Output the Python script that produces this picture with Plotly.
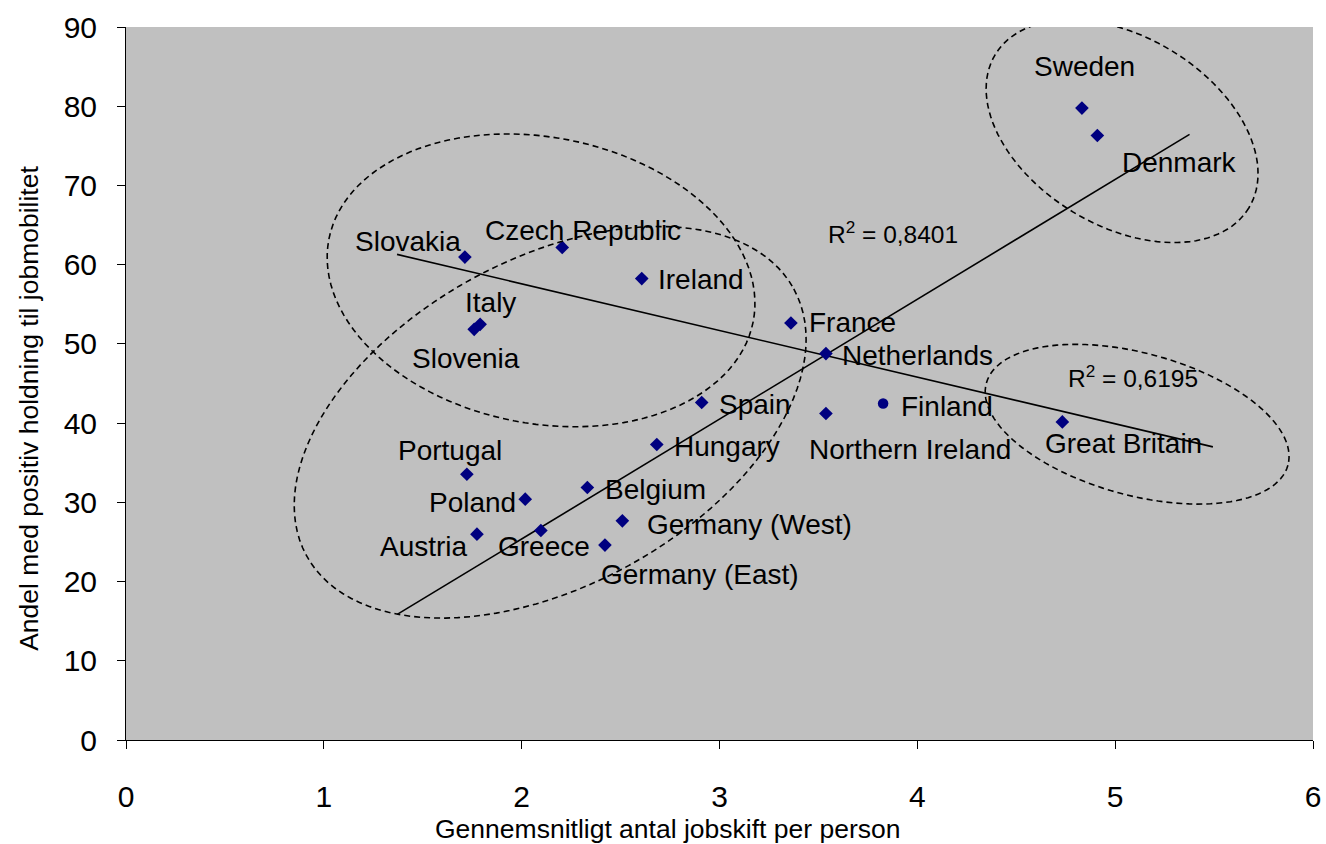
import math
import plotly.graph_objects as go

# ---------------- data ----------------
countries = ["Slovakia", "Czech Republic", "Ireland", "Italy", "Slovenia", "France",
             "Netherlands", "Spain", "Northern Ireland", "Finland", "Great Britain",
             "Sweden", "Denmark", "Hungary", "Portugal", "Belgium", "Poland",
             "Germany (West)", "Austria", "Greece", "Germany (East)"]
job_changes = [1.713, 2.205, 2.607, 1.790, 1.760, 3.361,
               3.538, 2.910, 3.538, 3.827, 4.733,
               4.832, 4.910, 2.683, 1.723, 2.332, 2.018,
               2.509, 1.774, 2.097, 2.421]
positive_share = [60.96, 62.18, 58.24, 52.47, 51.84, 52.64,
                  48.78, 42.60, 41.21, 42.47, 40.15,
                  79.76, 76.31, 37.30, 33.55, 31.87, 30.40,
                  27.66, 25.98, 26.45, 24.60]

# trend lines (linear fits): slope, intercept, x-range, R^2 text
trend_slope = [15.13, -5.892]
trend_intercept = [-4.89, 69.37]
trend_x_start = [1.371, 1.370]
trend_x_end = [5.376, 5.494]
r2_text = ["R<sup>2</sup> = 0,8401", "R<sup>2</sup> = 0,6195"]

x_ticks = [0, 1, 2, 3, 4, 5, 6]
y_ticks = [0, 10, 20, 30, 40, 50, 60, 70, 80, 90]

# ---------------- layout geometry ----------------
W, H = 1326, 844
# plot area in page pixels
P_LEFT, P_RIGHT, P_TOP, P_BOTTOM = 125.5, 1313.5, 26.5, 740
ML, MT = P_LEFT, P_TOP
MR, MB = W - P_RIGHT, H - P_BOTTOM
PW, PH = P_RIGHT - P_LEFT, P_BOTTOM - P_TOP
XR, YR = (0, 6), (0, 90)
px_per_x = PW / (XR[1] - XR[0])
px_per_y = PH / (YR[1] - YR[0])


def paper_x(px):
    return (px - P_LEFT) / PW


def paper_y(py):
    return (P_BOTTOM - py) / PH


FONT = "Arial, 'Liberation Sans', sans-serif"
NAVY = "#000080"

fig = go.Figure()

# trend lines
for s, b, x0, x1 in zip(trend_slope, trend_intercept, trend_x_start, trend_x_end):
    fig.add_trace(go.Scatter(x=[x0, x1], y=[s * x0 + b, s * x1 + b], mode="lines",
                             line=dict(color="black", width=1.6),
                             hoverinfo="skip", showlegend=False))

symbols = ["circle" if c == "Finland" else "diamond" for c in countries]
fig.add_trace(go.Scatter(x=job_changes, y=positive_share, mode="markers",
                         text=countries,
                         marker=dict(symbol=symbols, size=10.5, color=NAVY,
                                     line=dict(width=0)),
                         showlegend=False))

# label offsets in pixels (dx right, dy up)
label_offsets = {
    "Slovakia": (-57, 16), "Czech Republic": (21, 17), "Ireland": (59, -1),
    "Italy": (10, 22), "Slovenia": (-8, -29), "France": (62, 0),
    "Netherlands": (92, -2), "Spain": (53, -2), "Northern Ireland": (84, -36),
    "Finland": (64, -3), "Great Britain": (61, -22), "Sweden": (3, 42),
    "Denmark": (82, -27), "Hungary": (70, -2), "Portugal": (-17, 24),
    "Belgium": (68, -2), "Poland": (-53, -3), "Germany (West)": (127, -4),
    "Austria": (-53, -12), "Greece": (3, -16), "Germany (East)": (95, -29),
}
annotations = []
for c, xv, yv in zip(countries, job_changes, positive_share):
    dx, dy = label_offsets[c]
    annotations.append(dict(x=xv, y=yv, xref="x", yref="y", text=c, showarrow=False,
                            xshift=dx, yshift=dy, xanchor="center", yanchor="middle",
                            font=dict(family=FONT, size=28, color="black")))

# R^2 labels (page pixel positions)
r2_pos = [(893, 232), (1133, 376)]
for t, (px, py) in zip(r2_text, r2_pos):
    annotations.append(dict(x=paper_x(px), y=paper_y(py), xref="paper", yref="paper",
                            text=t, showarrow=False, xanchor="center", yanchor="middle",
                            font=dict(family=FONT, size=24.5, color="black")))

# axis titles
annotations.append(dict(x=paper_x(667), y=paper_y(829), xref="paper", yref="paper",
                        text="Gennemsnitligt antal jobskift per person", showarrow=False,
                        xanchor="center", yanchor="middle",
                        font=dict(family=FONT, size=26.5, color="black")))
annotations.append(dict(x=paper_x(29), y=paper_y(408), xref="paper", yref="paper",
                        text="Andel med positiv holdning til jobmobilitet", showarrow=False,
                        textangle=-90, xanchor="center", yanchor="middle",
                        font=dict(family=FONT, size=26.5, color="black")))

# dashed ellipses: centre (data), semi-axes (px), rotation (deg, clockwise on screen)
ellipses = [
    ((2.098, 58.02), 216.3, 143.2, 11.0),
    ((2.144, 40.10), 278.0, 163.5, -28.7),
    ((5.035, 76.85), 148.3, 94.6, 31.1),
    ((5.111, 39.86), 156.4, 71.1, 15.2),
]
shapes = []
for (cx, cy), a, b, th in ellipses:
    t_r = math.radians(th)
    pts = []
    for i in range(121):
        t = 2 * math.pi * i / 120
        dxp = a * math.cos(t) * math.cos(t_r) - b * math.sin(t) * math.sin(t_r)
        dyp = a * math.cos(t) * math.sin(t_r) + b * math.sin(t) * math.cos(t_r)
        pts.append((cx + dxp / px_per_x, cy - dyp / px_per_y))
    path = "M " + " L ".join(f"{x:.4f},{y:.4f}" for x, y in pts) + " Z"
    shapes.append(dict(type="path", path=path, xref="x", yref="y",
                       line=dict(color="black", width=1.6, dash="6px,4px")))

fig.update_layout(
    width=W, height=H,
    margin=dict(l=ML, r=MR, t=MT, b=MB, pad=0),
    paper_bgcolor="white", plot_bgcolor="#C0C0C0",
    font=dict(family=FONT, color="black"),
    annotations=annotations, shapes=shapes,
    showlegend=False,
    xaxis=dict(range=list(XR), tickvals=x_ticks, ticks="outside", ticklen=8,
               tickcolor="black", showgrid=False, zeroline=False,
               showline=True, linecolor="black", linewidth=1,
               tickfont=dict(family=FONT, size=30, color="black"),
               ticklabelstandoff=22, fixedrange=True, automargin=False),
    yaxis=dict(range=list(YR), tickvals=y_ticks, ticks="outside", ticklen=8,
               tickcolor="black", showgrid=False, zeroline=False,
               showline=True, linecolor="black", linewidth=1,
               tickfont=dict(family=FONT, size=30, color="black"),
               ticklabelstandoff=14, fixedrange=True, automargin=False),
)

fig.write_html("out.html",
               config={"displayModeBar": False},
               post_script="document.body.style.margin='0';document.body.style.overflow='hidden';")
